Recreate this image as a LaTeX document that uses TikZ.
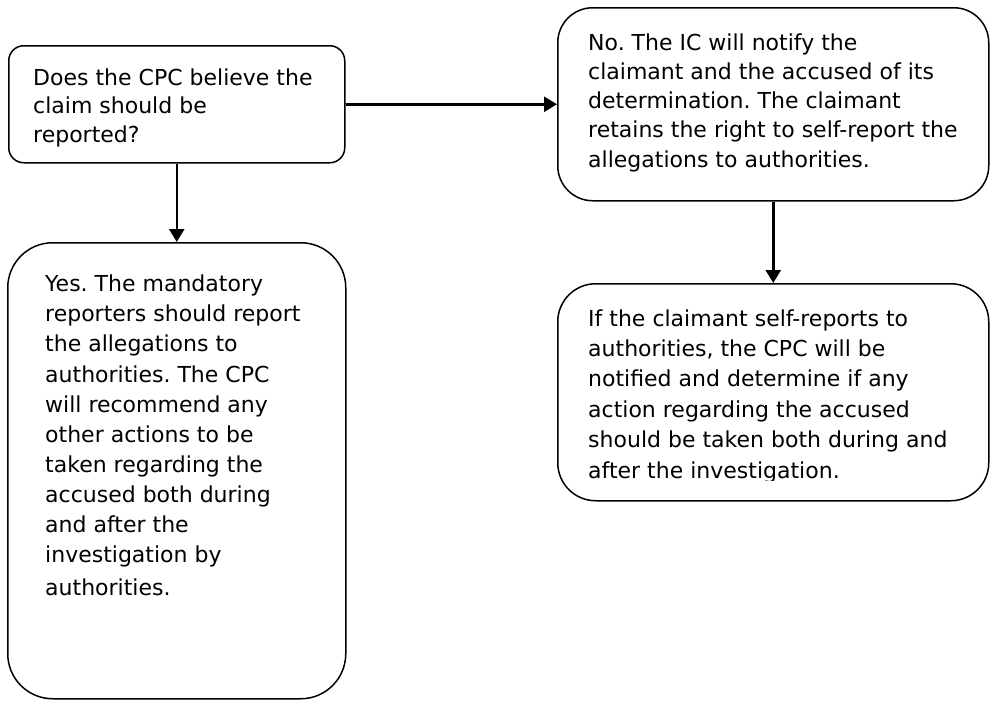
\documentclass[tikz,border=0pt]{standalone}
\usepackage{fontspec}
\setmainfont{DejaVu Sans}
\frenchspacing
\usetikzlibrary{arrows.meta}
\tikzset{
  box/.style={draw=black, line width=1.5pt, fill=white, inner sep=0pt, anchor=north west},
  txt/.style={inner sep=0pt, anchor=base west, font=\fontsize{22}{30.2}\selectfont},
  flow/.style={line width=2.5pt, -{Triangle[length=13pt,width=15pt]}, shorten >=0pt}
}
\begin{document}
\begin{tikzpicture}[x=1pt,y=-1pt]
\useasboundingbox[fill=white] (0,0) rectangle (991,704);
% boxes
\node[box, rounded corners=15pt, minimum width=336pt, minimum height=117pt] (a) at (8,45) {};
\node[box, rounded corners=35pt, minimum width=431pt, minimum height=193pt] (b) at (557,7) {};
\node[box, rounded corners=38pt, minimum width=431pt, minimum height=217pt] (c) at (557,283) {};
\node[box, rounded corners=45pt, minimum width=338pt, minimum height=456pt] (d) at (7,242) {};
% texts
\node[txt, font=\fontsize{22}{28.3}\selectfont] (ta) at (33,85.5) {\begin{tabular}[t]{@{}l@{}}Does the CPC believe the\\claim should be\\reported?\end{tabular}};
\node[txt, font=\fontsize{22}{29.3}\selectfont] (tb) at (588,50) {\begin{tabular}[t]{@{}l@{}}No. The IC will notify the\\claimant and the accused of its\\determination. The claimant\\retains the right to self-report the\\allegations to authorities.\end{tabular}};
\begin{scope}
\clip (557,283) rectangle (988,480);
\node[txt, font=\fontsize{22}{30.4}\selectfont] (tc) at (588,326) {\begin{tabular}[t]{@{}l@{}}If the claimant self-reports to\\authorities, the CPC will be\\notified and determine if any\\action regarding the accused\\should be taken both during and\\after the investigation.\end{tabular}};
\end{scope}
\node[txt, font=\fontsize{22}{30.1}\selectfont] (td) at (45,291.7) {\begin{tabular}[t]{@{}l@{}}Yes. The mandatory\\reporters should report\\the allegations to\\authorities. The CPC\\will recommend any\\other actions to be\\taken regarding the\\accused both during\\and after the\\investigation by\\[3pt]authorities.\end{tabular}};
% connectors
\draw[flow] (a.south) -- (d.north);
\draw[flow] (a.east) -- (b.west);
\draw[flow] (b.south) -- (c.north);
\end{tikzpicture}
\end{document}
